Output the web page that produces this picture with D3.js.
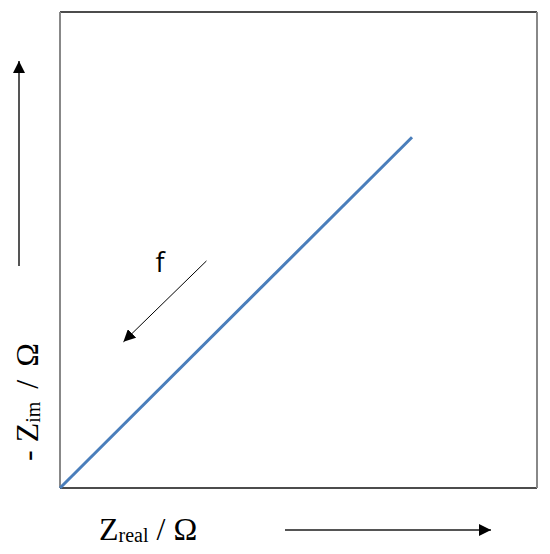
<!DOCTYPE html>
<html>
<head>
<meta charset="utf-8">
<script src="https://cdn.jsdelivr.net/npm/d3@7"></script>
<style>
  body { margin: 0; background: #fff; }
</style>
</head>
<body>
<div id="chart"></div>
<script>
var svgWidth = 550;
var svgHeight = 554;

var margin = {top: 12, right: 13, bottom: 66, left: 60};
var width = svgWidth - margin.left - margin.right;
var height = svgHeight - margin.top - margin.bottom;

// Nyquist-like line: -Zim against Zreal (relative units)
var zReal = [0, 0.738];
var zIm = [0, 0.737];
var lineData = zReal.map(function(d, i) { return {x: d, y: zIm[i]}; });

// frequency arrow along the line, pointing to low f
var fArrow = [{x: 0.307, y: 0.477}, {x: 0.133, y: 0.307}];

var svg = d3.select("#chart")
  .append("svg")
  .attr("width", svgWidth)
  .attr("height", svgHeight);

var defs = svg.append("defs");
defs.append("marker")
  .attr("id", "head")
  .attr("viewBox", "0 0 10 10")
  .attr("refX", 10)
  .attr("refY", 5)
  .attr("markerUnits", "userSpaceOnUse")
  .attr("markerWidth", 12)
  .attr("markerHeight", 12)
  .attr("orient", "auto")
  .append("path")
  .attr("d", "M0,0 L10,5 L0,10 Z")
  .attr("fill", "#000");

var chartGroup = svg.append("g")
  .attr("transform", `translate(${margin.left}, ${margin.top})`);

var xScale = d3.scaleLinear().domain([0, 1]).range([0, width]);
var yScale = d3.scaleLinear().domain([0, 1]).range([height, 0]);

// frame: dark top/bottom, grey sides
chartGroup.append("line")
  .attr("x1", 0).attr("x2", width).attr("y1", 0).attr("y2", 0)
  .attr("stroke", "#111").attr("stroke-width", 1.5);
chartGroup.append("line")
  .attr("x1", 0).attr("x2", width).attr("y1", height).attr("y2", height)
  .attr("stroke", "#111").attr("stroke-width", 1.5);
chartGroup.append("line")
  .attr("x1", 0).attr("x2", 0).attr("y1", 0).attr("y2", height)
  .attr("stroke", "#888").attr("stroke-width", 2);
chartGroup.append("line")
  .attr("x1", width).attr("x2", width).attr("y1", 0).attr("y2", height)
  .attr("stroke", "#888").attr("stroke-width", 2);

var line = d3.line()
  .x(d => xScale(d.x))
  .y(d => yScale(d.y));

chartGroup.append("path")
  .datum(lineData)
  .attr("d", line)
  .attr("fill", "none")
  .attr("stroke", "#4a7ebb")
  .attr("stroke-width", 3);

chartGroup.append("path")
  .datum(fArrow)
  .attr("d", line)
  .attr("fill", "none")
  .attr("stroke", "#000")
  .attr("stroke-width", 1)
  .attr("marker-end", "url(#head)");

chartGroup.append("text")
  .attr("x", xScale(0.2))
  .attr("y", yScale(0.453))
  .attr("font-family", "'Open Sans', 'Noto Sans', sans-serif")
  .attr("font-size", "27px")
  .attr("fill", "#000")
  .text("f");

// axis labels with direction arrows
var xLabel = svg.append("text")
  .attr("x", 99)
  .attr("y", 540)
  .attr("font-family", "'Liberation Serif', 'Times New Roman', serif")
  .attr("font-size", "32px")
  .attr("fill", "#000");
xLabel.append("tspan").text("Z");
xLabel.append("tspan").attr("font-size", "20px").attr("dy", 2).text("real");
xLabel.append("tspan").attr("dy", -2).text(" / Ω");

svg.append("line")
  .attr("x1", 285).attr("x2", 491)
  .attr("y1", 530).attr("y2", 530)
  .attr("stroke", "#555").attr("stroke-width", 2)
  .attr("marker-end", "url(#head)");

var yLabel = svg.append("text")
  .attr("transform", "translate(38, 461) rotate(-90)")
  .attr("font-family", "'Liberation Serif', 'Times New Roman', serif")
  .attr("font-size", "32px")
  .attr("fill", "#000");
yLabel.append("tspan").text("- Z");
yLabel.append("tspan").attr("font-size", "20px").attr("dy", 2).text("im");
yLabel.append("tspan").attr("dy", -2).attr("dx", 5).text(" /");
yLabel.append("tspan").attr("dx", 5).text(" Ω");

svg.append("line")
  .attr("x1", 19).attr("x2", 19)
  .attr("y1", 266).attr("y2", 61)
  .attr("stroke", "#555").attr("stroke-width", 2)
  .attr("marker-end", "url(#head)");
</script>
</body>
</html>
